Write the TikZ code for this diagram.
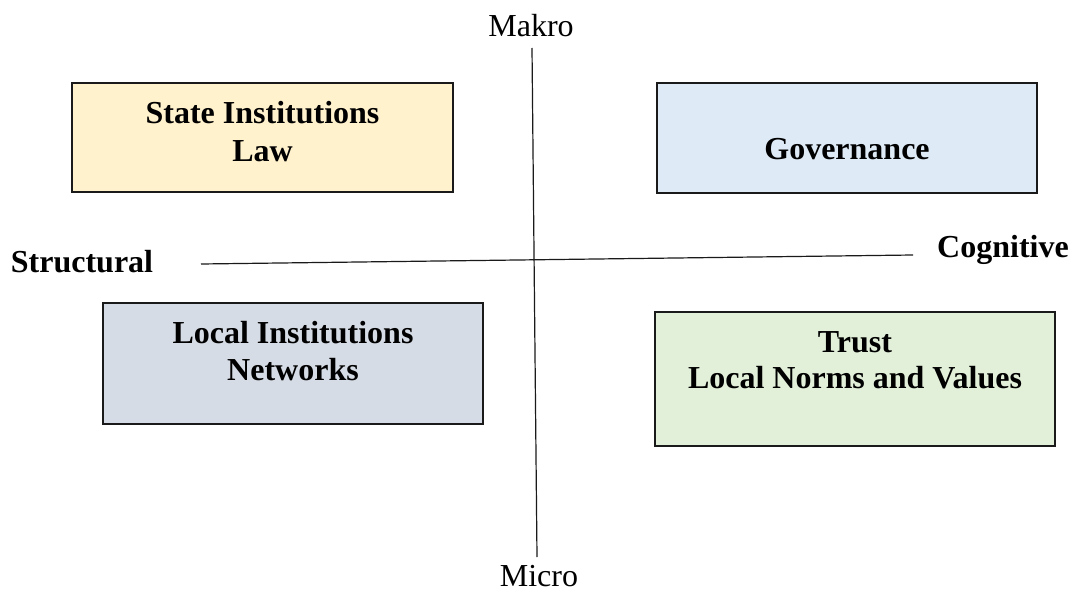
\documentclass[tikz,border=0pt]{standalone}
\usepackage{fontspec}
\setmainfont{Liberation Serif}
\definecolor{fillA}{HTML}{FFF2CC}
\definecolor{fillB}{HTML}{DEEBF7}
\definecolor{fillC}{HTML}{D6DCE5}
\definecolor{fillD}{HTML}{E2F0D9}
\definecolor{edge}{HTML}{1A1A1A}
\begin{document}
\begin{tikzpicture}[x=1bp,y=-1bp,
  box/.style={draw=edge,line width=1.6bp,rectangle,inner sep=0pt},
  lbl/.style={anchor=base,inner sep=0pt,font=\fontsize{32bp}{37bp}\selectfont\bfseries},
  axlbl/.style={anchor=base,inner sep=0pt,font=\fontsize{32bp}{37bp}\selectfont},
  axis/.style={draw=edge,line width=1.2bp}]
\useasboundingbox[fill=white] (0,0) rectangle (1074,591);
% boxes
\path[box,fill=fillA] (72,83) rectangle (453,192) node[pos=0.5,inner sep=0pt] (bA) {};
\path[box,fill=fillB] (657,83) rectangle (1037,193) node[pos=0.5,inner sep=0pt] (bB) {};
\path[box,fill=fillC] (103,303) rectangle (483,424) node[pos=0.5,inner sep=0pt] (bC) {};
\path[box,fill=fillD] (655,312) rectangle (1055,446) node[pos=0.5,inner sep=0pt] (bD) {};
% box texts
\node[lbl] (tA1) at (262.5,124) {State Institutions};
\node[lbl] (tA2) at (262.5,162) {Law};
\node[lbl] (tB1) at (847,160) {Governance};
\node[lbl] (tC1) at (293,343) {Local Institutions};
\node[lbl] (tC2) at (293,380) {Networks};
\node[lbl] (tD1) at (855,352) {Trust};
\node[lbl] (tD2) at (855,388) {Local Norms and Values};
% axes
\coordinate (vTop) at (532,48);
\coordinate (vBot) at (537,557);
\coordinate (hL) at (201,264);
\coordinate (hR) at (913,255);
\draw[axis] (vTop) -- (vBot);
\draw[axis] (hL) -- (hR);
% axis labels
\node[axlbl] (mak) at (531,37) {Makro};
\node[axlbl] (mic) at (539,586) {Micro};
\node[lbl] (str) at (82,273) {Structural};
\node[lbl] (cog) at (1003,258) {Cognitive};
\end{tikzpicture}
\end{document}
